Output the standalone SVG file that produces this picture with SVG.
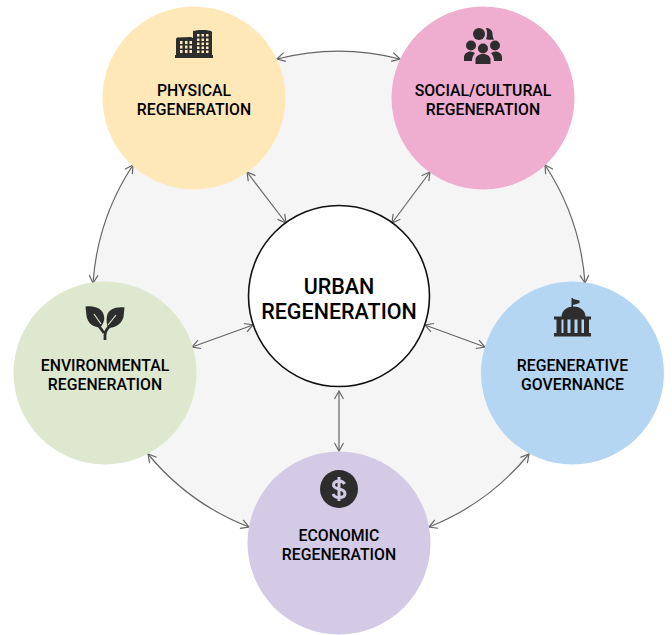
<svg xmlns="http://www.w3.org/2000/svg" width="672" height="635" viewBox="0 0 672 635">
<style>
.n{font-family:Roboto,"Liberation Sans",sans-serif;font-weight:500;font-size:15.8px;fill:#000;text-anchor:middle}
.c{font-family:Roboto,"Liberation Sans",sans-serif;font-weight:500;font-size:21.5px;fill:#000;text-anchor:middle}
.l{fill:none;stroke:#666;stroke-width:1.2;marker-start:url(#s);marker-end:url(#a)}
.i{fill:#2d2d2d}
</style>
<defs>
<marker id="a" markerWidth="12" markerHeight="12" refX="9" refY="5" orient="auto" markerUnits="userSpaceOnUse"><path d="M1 0.5L9 5L1 9.5" fill="none" stroke="#666" stroke-width="1.2"/></marker>
<marker id="s" markerWidth="12" markerHeight="12" refX="1" refY="5" orient="auto" markerUnits="userSpaceOnUse"><path d="M9 0.5L1 5L9 9.5" fill="none" stroke="#666" stroke-width="1.2"/></marker>
</defs>
<rect width="672" height="635" fill="#fff"/>
<circle cx="339" cy="297" r="246" fill="#f5f5f5"/>
<g id="connectors">
<path class="l" d="M277 59A246 246 0 0 1 400 59"/>
<path class="l" d="M545 165A246 246 0 0 1 585 283"/>
<path class="l" d="M529 454A246 246 0 0 1 429 527"/>
<path class="l" d="M249 527A246 246 0 0 1 148 454"/>
<path class="l" d="M93 283A246 246 0 0 1 133 165"/>
<path class="l" d="M247 172L286 223"/>
<path class="l" d="M430 172L392 223"/>
<path class="l" d="M192 347L253 325"/>
<path class="l" d="M485 347L425 325"/>
<path class="l" d="M339 391L339 451"/>
</g>
<g id="center"><circle cx="339" cy="296" r="90.5" fill="#fff" stroke="#111" stroke-width="1.6"/><text class="c" x="339" y="294">URBAN</text><text class="c" x="339" y="319">REGENERATION</text></g>
<g id="physical"><circle cx="194" cy="98" r="91.5" fill="#ffe8b8"/>
<path class="i" fill-rule="evenodd" d="M176 39l1-1.500 14-0.500 2 1v-7l6-1h7l5 1 1 1v24h-36zM180 41v3h2.500v-3zM185 41v3h2.500v-3zM189.500 41v3h2.500v-3zM180 45.500v3h2.500v-3zM185 45.500v3h2.500v-3zM189.500 45.500v3h2.500v-3zM180 50v3h2.500v-3zM185 50v3h2.500v-3zM189.500 50v3h2.500v-3zM197 34v2.500h2.500v-2.500zM201.500 34v2.500h2.500v-2.500zM206 34v2.500h2.500v-2.500zM197 38.500v2.500h2.500v-2.500zM201.500 38.500v2.500h2.500v-2.500zM206 38.500v2.500h2.500v-2.500zM197 42.500v2.500h2.500v-2.500zM201.500 42.500v2.500h2.500v-2.500zM206 42.500v2.500h2.500v-2.500zM197 46.500v2.500h2.500v-2.500zM201.500 46.500v2.500h2.500v-2.500zM206 46.500v2.500h2.500v-2.500zM197 50.500v2.500h2.500v-2.500zM201.500 50.500v2.500h2.500v-2.500zM206 50.500v2.500h2.500v-2.500z"/><rect class="i" x="175" y="55" width="38" height="3"/>
<text class="n" x="194" y="96">PHYSICAL</text><text class="n" x="194" y="115">REGENERATION</text></g>
<g id="social"><circle cx="483" cy="98" r="91.5" fill="#efadd0"/>
<g class="i"><circle cx="479" cy="34" r="6"/><path d="M486 28c4 0 6.500 2.500 6.500 5.500 0 2.500 0.500 4.500 1.500 6-3 0.500-6 0.500-8-0.500 1.500-3 1.500-7.500 0-11z"/><circle cx="471" cy="45.500" r="5"/><circle cx="495" cy="45.500" r="5"/><circle cx="483" cy="48.500" r="5"/><path d="M464 61v-4c0-3 3-5.500 6.500-5.500 1.500 0 3 0.500 4.500 1.500-2 2-3 5-3 8zM502 61v-4c0-3-3-5.500-6.500-5.500-1.500 0-3 0.500-4.500 1.500 2 2 3 5 3 8z"/><path d="M475.500 64v-4.500c0-3 3-5.500 7.500-5.500s7.500 2.500 7.500 5.500v4.500z"/></g>
<text class="n" x="483" y="96">SOCIAL/CULTURAL</text><text class="n" x="483" y="115">REGENERATION</text></g>
<g id="governance"><circle cx="572.500" cy="373" r="91.5" fill="#b5d6f2"/>
<g class="i"><rect x="571.500" y="298" width="1.500" height="10"/><path d="M573 299l6.500 1.500v2.500l-6.500 2z"/><path d="M561.500 317c0-6 5-10.500 12-10.500s12 4.500 12 10.500z"/><rect x="554" y="316.500" width="37" height="3"/><rect x="556.500" y="319" width="5" height="14"/><rect x="563.500" y="319" width="4" height="14"/><rect x="570.500" y="319" width="4" height="14"/><rect x="577.500" y="319" width="4" height="14"/><rect x="584" y="319" width="5" height="14"/><rect x="554" y="333" width="37" height="3.500"/></g>
<text class="n" x="572.500" y="371">REGENERATIVE</text><text class="n" x="572.500" y="390">GOVERNANCE</text></g>
<g id="economic"><circle cx="339" cy="543" r="91.500" fill="#d3cbe6"/>
<circle class="i" cx="339" cy="489" r="19"/>
<path d="M344.500 484c-1-2-3-3-5.500-3-3 0-5.500 1.500-5.500 4 0 5.500 11.500 2.500 11.500 8.500 0 2.500-2.500 4-6 4-2.500 0-5-1-6-3.500M339 477v24" fill="none" stroke="#d3cbe6" stroke-width="3"/>
<text class="n" x="339" y="541">ECONOMIC</text><text class="n" x="339" y="560">REGENERATION</text></g>
<g id="environmental"><circle cx="105" cy="373" r="91.5" fill="#dde8cf"/>
<g class="i"><path d="M85.500 306.500c9-1.500 17.500 2 18.500 9.500 1 4-1 8-3.500 11.500-8 0-13-5-14-11.500z"/><path d="M124.500 307.500c-9-1-16.500 2-17.500 8.500-1 4 0 8 0.500 11.500 8.500 1 14-4 16-10.500z"/></g>
<path d="M94 314l7 10M116 315l-8 10" fill="none" stroke="#dde8cf" stroke-width="1.200"/>
<path d="M96 322l8 11M115 323c-6 3-10 7-10 12v5" fill="none" stroke="#2d2d2d" stroke-width="2.800"/>
<text class="n" x="105" y="371">ENVIRONMENTAL</text><text class="n" x="105" y="390">REGENERATION</text></g>
</svg>
